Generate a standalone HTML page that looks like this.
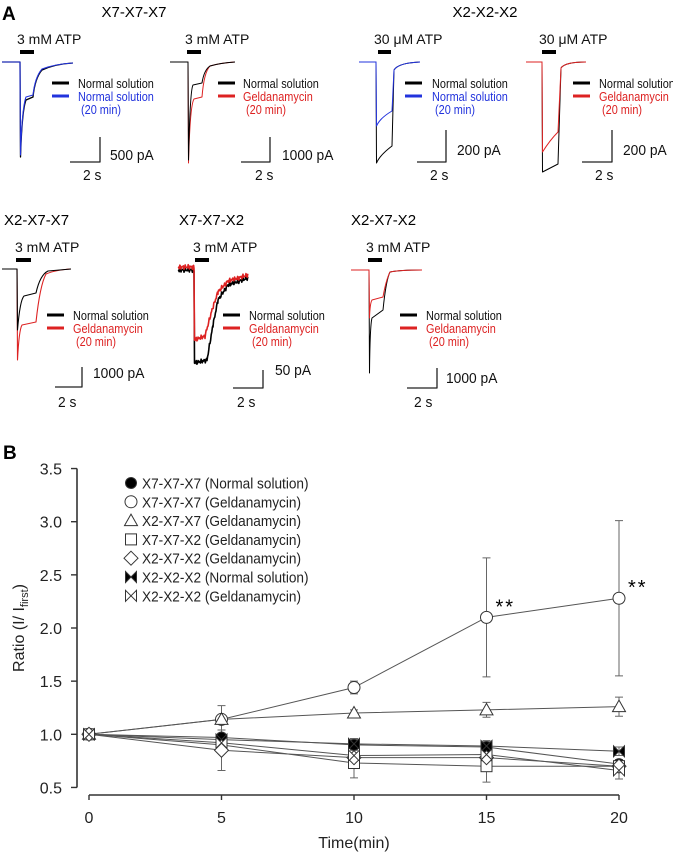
<!DOCTYPE html>
<html><head><meta charset="utf-8">
<style>
html,body{margin:0;padding:0;background:#fff;}
body{width:673px;height:853px;overflow:hidden;}
svg{display:block;font-family:"Liberation Sans",Arial,sans-serif;}
</style></head>
<body>
<svg id="fig" width="673" height="853" viewBox="0 0 673 853">
<g id="panelA" font-size="13">
<text x="2" y="20" font-size="19" font-weight="bold">A</text>
<text x="134" y="17" font-size="15" text-anchor="middle">X7-X7-X7</text>
<text x="485" y="17" font-size="15" text-anchor="middle">X2-X2-X2</text>
<text x="4" y="225" font-size="15">X2-X7-X7</text>
<text x="179" y="225" font-size="15">X7-X7-X2</text>
<text x="351" y="225" font-size="15">X2-X7-X2</text>
</g>
<g id="traces" fill="none" stroke-linejoin="round"></g>
<g id="chart"></g>
</svg>
<script>
// ---- Chart data (panel B) ----
const times = [0, 5, 10, 15, 20];
const yTicks = [0.5, 1.0, 1.5, 2.0, 2.5, 3.0, 3.5];
const seriesNames = ["X7-X7-X7 (Normal solution)","X7-X7-X7 (Geldanamycin)","X2-X7-X7 (Geldanamycin)","X7-X7-X2 (Geldanamycin)","X2-X7-X2 (Geldanamycin)","X2-X2-X2 (Normal solution)","X2-X2-X2 (Geldanamycin)"];
const seriesMarkers = ["fcircle","circle","triangle","square","diamond","fbowtie","bowtie"];
const vX777N = [1.0, 0.97, 0.90, 0.88, 0.72];
const vX777G = [1.0, 1.14, 1.44, 2.10, 2.28];
const vX277G = [1.0, 1.14, 1.20, 1.23, 1.26];
const vX772G = [1.0, 0.90, 0.73, 0.70, 0.70];
const vX272G = [1.0, 0.85, 0.78, 0.78, 0.70];
const vX222N = [1.0, 0.95, 0.91, 0.89, 0.84];
const vX222G = [1.0, 0.92, 0.80, 0.81, 0.66];
const eX777N = [0, 0.03, 0.05, 0.05, 0.04];
const eX777G = [0, 0.03, 0.06, 0.56, 0.73];
const eX277G = [0, 0.13, 0.03, 0.07, 0.09];
const eX772G = [0, 0.05, 0.14, 0.15, 0.05];
const eX272G = [0, 0.19, 0.08, 0.08, 0.06];
const eX222N = [0, 0.04, 0.05, 0.05, 0.04];
const eX222G = [0, 0.05, 0.06, 0.06, 0.08];
const seriesValues = [vX777N, vX777G, vX277G, vX772G, vX272G, vX222N, vX222G];
const seriesErrors = [eX777N, eX777G, eX277G, eX772G, eX272G, eX222N, eX222G];
const sigTimes = [15, 20];
const sigValues = [2.10, 2.28];

const NS = "http://www.w3.org/2000/svg";
function mk(tag, attrs, parent){ const e=document.createElementNS(NS,tag); for(const k in attrs) e.setAttribute(k,attrs[k]); parent.appendChild(e); return e; }
const X = t => 89 + t*26.5;
const Y = v => 734.3 - (v-1)*106.3;
const chart = document.getElementById('chart');

let t = mk('text',{x:3,y:459,'font-size':19,'font-weight':'bold'},chart); t.textContent='B';


let ya = mk('line',{x1:77,y1:Y(3.5),x2:77,y2:Y(0.5),stroke:'#333','stroke-width':1.6},chart);


yTicks.forEach(v=>{
  const tk = mk('line',{x1:71,y1:Y(v),x2:77,y2:Y(v),stroke:'#333','stroke-width':1.4},chart);
  
  
  const lb = mk('text',{x:62,y:Y(v)+6,'font-size':16,'text-anchor':'end',fill:'#222'},chart);
  lb.textContent = v.toFixed(1);
  
  
});
let xa = mk('line',{x1:X(0),y1:795,x2:X(20),y2:795,stroke:'#333','stroke-width':1.6},chart);


times.forEach(v=>{
  const tk = mk('line',{x1:X(v),y1:795,x2:X(v),y2:800,stroke:'#333','stroke-width':1.4},chart);
  
  
  const lb = mk('text',{x:X(v),y:823,'font-size':16,'text-anchor':'middle',fill:'#222'},chart);
  lb.textContent = v;
  
  
});
let xt = mk('text',{x:354,y:848,'font-size':16,'text-anchor':'middle',fill:'#222'},chart);
xt.textContent='Time(min)';


let yt = mk('text',{transform:'translate(24,628) rotate(-90)','font-size':16,'text-anchor':'middle',fill:'#222'},chart);
yt.innerHTML='Ratio (I/ I<tspan font-size="11" dy="4">first</tspan><tspan dy="-4">)</tspan>';



function marker(type, cx, cy, g){
  const s=5.5, st={stroke:'#333','stroke-width':1};
  let e;
  if(type==='fcircle') e=mk('circle',Object.assign({cx,cy,r:s,fill:'#000'},st),g);
  else if(type==='circle') e=mk('circle',Object.assign({cx,cy,r:s+0.5,fill:'#fff'},st),g);
  else if(type==='triangle') e=mk('polygon',Object.assign({points:`${cx},${cy-s-1} ${cx+s+1},${cy+s-0.5} ${cx-s-1},${cy+s-0.5}`,fill:'#fff'},st),g);
  else if(type==='square') e=mk('rect',Object.assign({x:cx-s,y:cy-s,width:2*s,height:2*s,fill:'#fff'},st),g);
  else if(type==='diamond') e=mk('polygon',Object.assign({points:`${cx},${cy-s-1.5} ${cx+s+1.5},${cy} ${cx},${cy+s+1.5} ${cx-s-1.5},${cy}`,fill:'#fff'},st),g);
  else if(type==='fbowtie') e=mk('polygon',Object.assign({points:`${cx-s},${cy-s} ${cx},${cy} ${cx+s},${cy-s} ${cx+s},${cy+s} ${cx},${cy} ${cx-s},${cy+s}`,fill:'#000'},st),g);
  else e=mk('polygon',Object.assign({points:`${cx-s},${cy-s} ${cx+s},${cy+s} ${cx+s},${cy-s} ${cx-s},${cy+s}`,fill:'#fff'},st),g);
  
  
}

const linesG = mk('g',{},chart);
seriesValues.forEach((vals,i)=>{
  const g = mk('g',{},linesG);
  
  
  const pl = mk('polyline',{points:vals.map((v,j)=>X(times[j])+','+Y(v)).join(' '),fill:'none',stroke:'#555','stroke-width':1},g);
  
  
  vals.forEach((v,j)=>{
    const e = seriesErrors[i][j]; if(!e) return;
    const x=X(times[j]);
    const eb = mk('path',{d:`M${x},${Y(v+e)}V${Y(v-e)}M${x-4},${Y(v+e)}h8M${x-4},${Y(v-e)}h8`,stroke:'#666','stroke-width':1,fill:'none'},g);
    
    
  });
});
seriesValues.forEach((vals,i)=>{
  vals.forEach((v,j)=>marker(seriesMarkers[i], X(times[j]), Y(v), chart));
});
sigTimes.forEach((tm,i)=>{
  const s = mk('text',{x:X(tm)+9,y:Y(sigValues[i])-4,'font-size':20,'letter-spacing':'2'},chart);
  s.textContent='**';
  
  
});
const lg = mk('g',{},chart);


seriesNames.forEach((n,i)=>{
  const y = 483 + i*18.8;
  marker(seriesMarkers[i], 131, y, lg);
  const tx = mk('text',{transform:`translate(142,${y+5.5}) scale(0.94,1)`,'font-size':14.5,fill:'#222'},lg);
  tx.textContent = n;
  
  
});

// ---- Panel A traces ----
const tr = document.getElementById('traces');
function path(d,col,w,name){ const p=mk('path',{d,stroke:col,'stroke-width':w||1.2,fill:'none'},tr);
  
   }
function txt(x,y,s,col,sz,name,sx){ const e=mk('text',{transform:`translate(${x},${y}) scale(${sx||1},1)`,'font-size':sz||13,fill:col||'#111',stroke:'none'},tr); e.textContent=s;
  
   }
function bar(x1,x2,y){ const e=mk('line',{x1,y1:y,x2,y2:y,stroke:'#000','stroke-width':4},tr);
  
   }
function legend(x,y,col,lbl,tx){
  const a=mk('line',{x1:x,y1:y,x2:x+17,y2:y,stroke:'#000','stroke-width':3},tr);
  
  
  const b=mk('line',{x1:x,y1:y+13,x2:x+17,y2:y+13,stroke:col,'stroke-width':3},tr);
  
  
  txt(tx,y+5,'Normal solution','#111',13,'trace-legend-label',0.84);
  txt(tx,y+18,lbl,col,13,'trace-legend-label',0.84);
  txt(tx+3,y+31,'(20 min)',col,13,'trace-legend-label',0.84);
}
function scale(xv,y1,y2,xl,lbl,lx,ly,sx,sy){
  path(`M${xl},${y2}H${xv}V${y1}`,'#222',1.3,'scale-bar');
  txt(lx,ly,lbl,'#111',15,'scale-bar-label',0.92);
  txt(sx,sy,'2 s','#111',15,'scale-bar-label',0.92);
}
const BLUE='#2233dd', RED='#dd2222';
txt(17,44,'3 mM ATP','#111',14,'atp-label'); bar(20,34,52);
path('M2,62L20,62L20.5,157Q22,110 26,100L33,97Q35,78 42,70Q55,64 73,63','#000',1.3,'trace-normal');
path('M2,62L20,62L20.5,155Q22,108 26,97L33,95Q35,77 42,69Q55,64 73,63',BLUE,1.1,'trace-20min');
legend(52,83,BLUE,'Normal solution',78);
scale(100,137,162,70,'500 pA',110,160,83,180);
txt(185,44,'3 mM ATP','#111',14,'atp-label'); bar(187,201,52);
path('M170,62L188,62L188.5,163Q190,105 194,99L202,97Q204,72 210,66Q220,63 235,62',RED,1,'trace-20min');
path('M170,62L188,62L188.5,160Q190,90 193,85L202,83Q204,70 210,66Q220,63 235,62','#000',1,'trace-normal');
legend(218,83,RED,'Geldanamycin',243);
scale(270,137,162,241,'1000 pA',282,160,255,180);
txt(374,44,'30 \u03bcM ATP','#111',14,'atp-label'); bar(378,391,52);
path('M359,62L376,62L376.5,163Q380,155 392,146L394,70Q398,63 420,62','#000',1,'trace-normal');
path('M359,62L376,62L376.5,126Q380,118 392,111L394,70Q398,63 420,62',BLUE,1,'trace-20min');
legend(405,83,BLUE,'Normal solution',432);
scale(446,130,162,417,'200 pA',457,155,430,180);
txt(539,44,'30 \u03bcM ATP','#111',14,'atp-label'); bar(542,556,52);
path('M526,62L542,62L542.5,172L558,164L561,68Q565,62 586,62','#000',1,'trace-normal');
path('M526,62L542,62L542.5,152Q550,140 558,132L561,68Q565,62 586,62',RED,1,'trace-20min');
legend(573,83,RED,'Geldanamycin',599);
scale(612,130,162,582,'200 pA',623,155,595,180);
txt(15,252,'3 mM ATP','#111',14,'atp-label'); bar(16,31,260);
path('M2,269L17,269L17.5,360Q19,330 22,325L36,322Q40,285 46,274Q55,270 71,269',RED,1.1,'trace-20min');
path('M2,269L17,269L17.5,330Q20,300 24,296L36,293Q40,275 48,271L71,269','#000',1.1,'trace-normal');
legend(47,315,RED,'Geldanamycin',73);
scale(82,367,387,55,'1000 pA',93,378,58,407);
function noisy(pts, amp){ let d=''; let k=0;
  for(let i=0;i<pts.length-1;i++){ const [x1,y1]=pts[i],[x2,y2]=pts[i+1];
    for(let x=x1;x<x2;x+=0.6){ const y=y1+(y2-y1)*(x-x1)/(x2-x1)+amp*Math.sin(k*2.7)*Math.cos(k*1.3); d+=(d?'L':'M')+x.toFixed(1)+','+y.toFixed(1); k++; } }
  return d; }
path(noisy([[178,270],[194,270],[194.5,363],[207,360],[213,325],[218,300],[228,285],[248,278]],2.5),'#000',1.6,'trace-normal');
path(noisy([[178,267],[194,267],[194.5,340],[205,336],[212,310],[218,292],[228,281],[248,275]],2.5),RED,1.6,'trace-20min');
txt(193,252,'3 mM ATP','#111',14,'atp-label'); bar(195,209,260);
legend(223,315,RED,'Geldanamycin',249);
scale(263,370,388,233,'50 pA',275,375,237,407);
txt(366,252,'3 mM ATP','#111',14,'atp-label'); bar(368,382,260);
path('M351,270L369,270L369.5,373Q370,325 372,318L383,310Q386,280 390,272Q400,270 422,270','#000',1,'trace-normal');
path('M351,270L369,270L369.5,318Q370,303 372,300L383,297Q386,280 390,272Q400,270 422,270',RED,1,'trace-20min');
legend(400,315,RED,'Geldanamycin',426);
scale(437,368,388,407,'1000 pA',446,383,414,407);
</script>
</body></html>
